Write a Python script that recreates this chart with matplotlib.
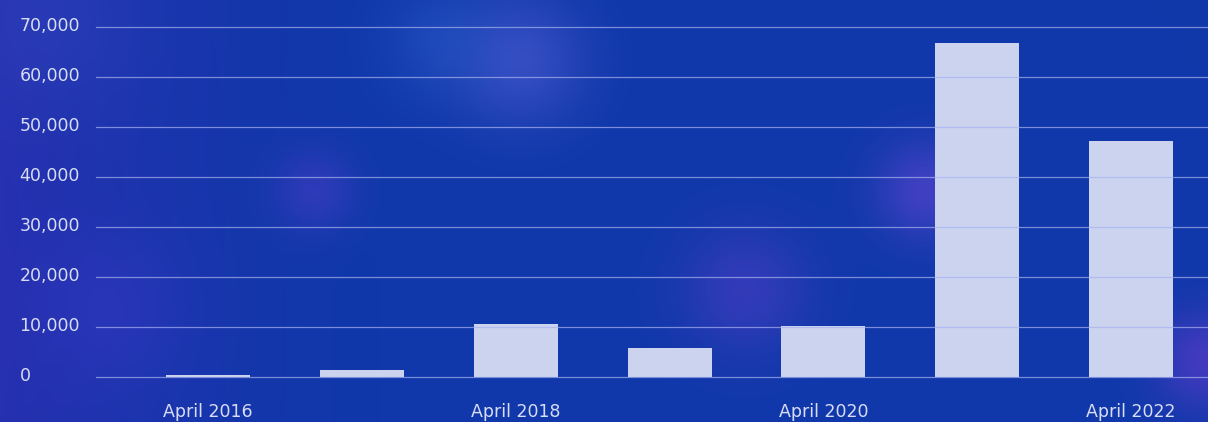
import matplotlib
matplotlib.use("Agg")
import matplotlib.pyplot as plt
import matplotlib.transforms as mtransforms
import numpy as np

# yearly totals, one bar per April
periods = ["April 2016", "April 2017", "April 2018", "April 2019",
           "April 2020", "April 2021", "April 2022"]
totals = [400, 1400, 10600, 5800, 10200, 66800, 47200]
shown_labels = ["April 2016", "", "April 2018", "", "April 2020", "", "April 2022"]
y_ticks = [0, 10000, 20000, 30000, 40000, 50000, 60000, 70000]

W, H = 1208, 422
fig = plt.figure(figsize=(W / 100, H / 100), dpi=100)

# background: blue wash going violet on the left, with soft glows
yy, xx = np.mgrid[0:H, 0:W].astype(float)
base = np.array([16, 56, 170]) / 255.0
violet = np.array([38, 48, 176]) / 255.0
t = np.clip(1 - xx / 380.0, 0, 1)[..., None] ** 1.5
bg = base * (1 - t) + violet * t

def glow(cx, cy, r, color, strength):
    g = np.exp(-(((xx - cx) ** 2 + (yy - cy) ** 2) / (2 * r ** 2)))[..., None]
    return g * strength * (np.array(color) / 255.0 - bg)

bg = bg + glow(520, 60, 45, (78, 92, 210), 0.6)
bg = bg + glow(440, 40, 40, (45, 95, 205), 0.4)
bg = bg + glow(315, 190, 28, (75, 62, 200), 0.5)
bg = bg + glow(745, 290, 45, (85, 62, 200), 0.5)
bg = bg + glow(925, 190, 35, (95, 70, 210), 0.6)
bg = bg + glow(1205, 360, 35, (100, 60, 205), 0.6)
bg = bg + glow(110, 310, 55, (60, 58, 200), 0.35)
bg = bg + glow(40, 20, 70, (55, 78, 196), 0.3)
bg = np.clip(bg, 0, 1)

bg_ax = fig.add_axes([0, 0, 1, 1], zorder=0)
bg_ax.imshow(bg, aspect="auto", interpolation="bilinear")
bg_ax.axis("off")

ax = fig.add_axes([96 / W, 45 / H, 1112 / W, 350 / H], zorder=1)
ax.patch.set_alpha(0)

x = np.arange(len(periods))
ax.bar(x, totals, width=0.546, color="#cbd3ef", zorder=1)

ax.set_xlim(-0.728, 6.5)
ax.set_ylim(0, 70000)
ax.set_yticks(y_ticks)
ax.set_yticklabels([f"{v:,}" for v in y_ticks])
ax.set_xticks(x)
ax.set_xticklabels(shown_labels)

ax.grid(axis="y", color="#a8b2f0", alpha=0.7, linewidth=0.9)
ax.set_axisbelow(False)
for line in ax.yaxis.get_gridlines():
    line.set_clip_on(False)
for s in ax.spines.values():
    s.set_visible(False)

label_color = "#d8ddf5"
ax.tick_params(axis="y", length=0, pad=55, labelsize=12.5, labelcolor=label_color)
ax.tick_params(axis="x", length=0, pad=19, labelsize=12.5, labelcolor=label_color)

# y labels left-aligned, sitting a touch above their gridlines
offset = mtransforms.ScaledTranslation(0, -6 / 72, fig.dpi_scale_trans)
for lab in ax.get_yticklabels():
    lab.set_horizontalalignment("left")
    lab.set_verticalalignment("bottom")
    lab.set_transform(lab.get_transform() + offset)

fig.savefig("out.png", dpi=100)
